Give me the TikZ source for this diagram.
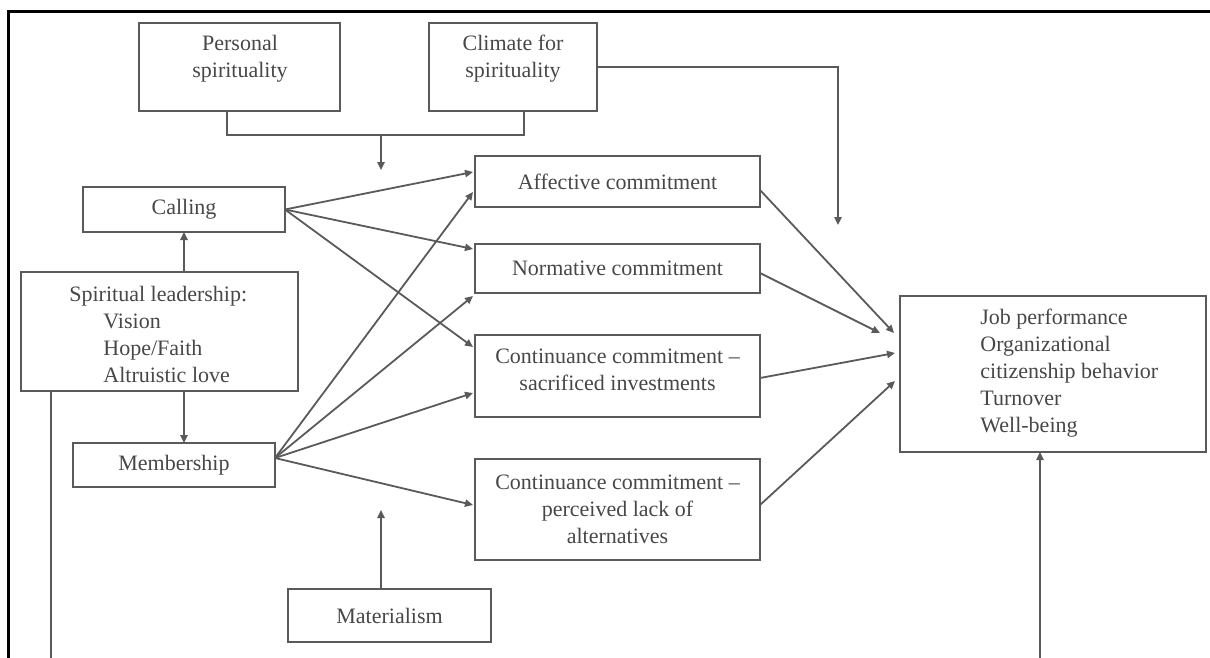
\documentclass[tikz,border=0pt]{standalone}
\usepackage{fontspec}
\setmainfont{Liberation Serif}
\usetikzlibrary{arrows.meta,calc}
\definecolor{linec}{HTML}{5A5A5A}
\definecolor{textc}{HTML}{474747}
\begin{document}
\begin{tikzpicture}[x=0.5pt,y=-0.5pt,
  box/.style={draw=linec, line width=1.2pt, inner sep=0pt, outer sep=0pt,
    text=textc, font=\fontsize{11}{13.5}\selectfont, align=center},
  txt/.style={inner sep=0pt, text=textc, font=\fontsize{11}{13.5}\selectfont},
  conn/.style={draw=linec, line width=0.9pt, -{Triangle[length=4pt,width=3.6pt]}},
  plain/.style={draw=linec, line width=0.9pt},
  frame/.style={draw=black, line width=1.65pt}
]
\useasboundingbox (0,0) rectangle (1210,658);
% frame
\draw[frame] (1212,11.7) -- (8.3,11.7) -- (8.3,660);

% boxes
\node[box, minimum width=100.5pt, minimum height=44pt] (pers) at (239.5,67) {};
\node[txt, align=center] (perstxt) at (240,58.5) {Personal\\spirituality};
\node[box, minimum width=84pt, minimum height=44pt] (clim) at (513,67) {};
\node[txt, align=center] (climtxt) at (513,58.5) {Climate for\\spirituality};

\node[box, minimum width=101pt, minimum height=22.5pt] (calling) at (184,209.5) {Calling};
\node[box, minimum width=138.5pt, minimum height=59.5pt] (spirit) at (159.5,331.5) {};
\node[txt, align=left, anchor=west] (spirittxt) at (69,334)
  {Spiritual leadership:\\\hspace*{17pt}Vision\\\hspace*{17pt}Hope/Faith\\\hspace*{17pt}Altruistic love};
\node[box, minimum width=101pt, minimum height=22pt] (memb) at (174,465) {Membership};
\node[box, minimum width=101.5pt, minimum height=26.5pt] (mat) at (389.5,615.5) {Materialism};

\node[box, minimum width=142.5pt, minimum height=25.5pt] (aff) at (617.5,181.5) {Affective commitment};
\node[box, minimum width=142.5pt, minimum height=24.5pt] (norm) at (617.5,268.5) {Normative commitment};
\node[box, minimum width=142.5pt, minimum height=41pt] (sac) at (617.5,376) {};
\node[txt, align=center] (sactxt) at (617.5,370) {Continuance commitment --\\sacrificed investments};
\node[box, minimum width=142.5pt, minimum height=50.5pt] (per) at (617.5,509.5)
  {Continuance commitment --\\perceived lack of\\alternatives};

\node[box, minimum width=153pt, minimum height=78pt] (out) at (1053,374) {};
\node[txt, align=left, anchor=west] (outtxt) at (980,373.5)
  {Job performance\\Organizational\\citizenship behavior\\Turnover\\Well-being};

% moderator bracket
\coordinate (brL) at ($(pers.south)+(-12.5,24)$);
\coordinate (brR) at ($(clim.south)+(11,24)$);
\coordinate (brM) at (381,135);
\coordinate (brT) at (381,170);
\draw[plain] ($(pers.south)+(-12.5,0)$) -- (brL) -- (brR) -- ($(clim.south)+(11,0)$);
\draw[conn] (brM) -- (brT);

% climate to outcomes path
\coordinate (climC) at (838,67);
\coordinate (climT) at (838,225);
\draw[conn] (clim.east) -- (climC) -- (climT);

% materialism
\coordinate (matT) at (381,510);
\draw[conn] ($(mat.north)+(-8.5,0)$) -- (matT);

% spiritual leadership
\draw[conn] (calling.south |- spirit.north) -- (calling.south);
\draw[conn] (calling.south |- spirit.south) -- (calling.south |- memb.north);
\coordinate (leftB) at (51,660);
\draw[plain] ($(spirit.south west)+(30,0)$) -- (leftB);

% outcome from below
\coordinate (outB) at (1040,660);
\draw[conn] (outB) -- ($(out.south)+(-13,0)$);

% calling
\draw[conn] (calling.east) -- ($(aff.west)+(-2,-9.5)$);
\draw[conn] (calling.east) -- ($(norm.west)+(-2,-19.5)$);
\draw[conn] (calling.east) -- ($(sac.west)+(-2,-29)$);

% membership
\draw[conn] ($(memb.east)+(0,-7)$) -- ($(aff.west)+(-2,10.5)$);
\draw[conn] ($(memb.east)+(0,-7)$) -- ($(norm.south west)+(-2,3)$);
\draw[conn] ($(memb.east)+(0,-7)$) -- ($(sac.west)+(-2,17)$);
\draw[conn] ($(memb.east)+(0,-7)$) -- ($(per.west)+(-2,-4.5)$);

% commitments to outcomes
\draw[conn] ($(aff.east)+(0,8.5)$) -- ($(out.west)+(-6,-41)$);
\draw[conn] ($(norm.east)+(0,4.5)$) -- ($(out.west)+(-20,-41)$);
\draw[conn] ($(sac.east)+(0,2)$) -- ($(out.west)+(-5,-21)$);
\draw[conn] ($(per.east)+(0,-4.5)$) -- ($(out.west)+(-5,7)$);
\end{tikzpicture}
\end{document}
